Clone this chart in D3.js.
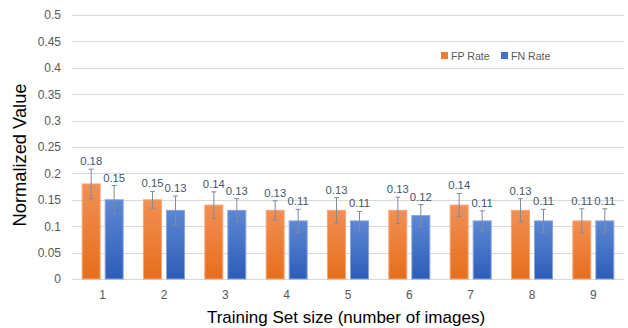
<!DOCTYPE html>
<html>
<head>
<meta charset="utf-8">
<script src="https://cdn.jsdelivr.net/npm/d3@7"></script>
<style>
  html, body { margin: 0; padding: 0; background: #fff; }
  svg { display: block; }
</style>
</head>
<body>
<svg id="chart" width="628" height="328"></svg>
<script>
const categories = ["1", "2", "3", "4", "5", "6", "7", "8", "9"];
const seriesNames = ["FP Rate", "FN Rate"];
const fpRate = [0.18, 0.15, 0.14, 0.13, 0.13, 0.13, 0.14, 0.13, 0.11];
const fnRate = [0.15, 0.13, 0.13, 0.11, 0.11, 0.12, 0.11, 0.11, 0.11];
const fpError = [0.028, 0.016, 0.025, 0.018, 0.024, 0.025, 0.022, 0.022, 0.023];
const fnError = [0.027, 0.027, 0.022, 0.022, 0.018, 0.021, 0.019, 0.022, 0.023];
const yTicks = [0, 0.05, 0.1, 0.15, 0.2, 0.25, 0.3, 0.35, 0.4, 0.45, 0.5];

const svg = d3.select("#chart");
const plotLeft = 72, plotRight = 624, plotTop = 15, plotBottom = 279;
const FONT = "Liberation Sans, Arial, sans-serif";

const defs = svg.append("defs");
const gradFP = defs.append("linearGradient").attr("id", "gFP").attr("x1", 0).attr("y1", 0).attr("x2", 0).attr("y2", 1);
gradFP.append("stop").attr("offset", "0%").attr("stop-color", "#f28f54");
gradFP.append("stop").attr("offset", "100%").attr("stop-color", "#e66e1c");
const gradFN = defs.append("linearGradient").attr("id", "gFN").attr("x1", 0).attr("y1", 0).attr("x2", 0).attr("y2", 1);
gradFN.append("stop").attr("offset", "0%").attr("stop-color", "#5d87d3");
gradFN.append("stop").attr("offset", "100%").attr("stop-color", "#2d5db9");

const y = d3.scaleLinear().domain([0, 0.5]).range([plotBottom, plotTop]);
const x0 = d3.scaleBand().domain(categories).range([plotLeft, plotRight]).paddingInner(0.315).paddingOuter(0.1575);
const x1 = d3.scaleBand().domain(seriesNames).range([0, x0.bandwidth()]).paddingInner(0.174);

// gridlines
svg.append("g").selectAll("line").data(yTicks).join("line")
  .attr("x1", plotLeft).attr("x2", plotRight)
  .attr("y1", d => Math.round(y(d)) + 0.5).attr("y2", d => Math.round(y(d)) + 0.5)
  .attr("stroke", "#d9d9d9").attr("stroke-width", 1);

// y axis labels
const yAxis = d3.axisLeft(y).tickValues(yTicks).tickSize(0).tickPadding(0).tickFormat(d => String(+d.toFixed(2)));
const yg = svg.append("g").attr("transform", `translate(${plotLeft - 11},0)`).call(yAxis);
yg.select(".domain").remove();
yg.selectAll("text").attr("font-family", FONT).attr("font-size", 12).attr("fill", "#595959");

// x axis labels
const xAxis = d3.axisBottom(x0).tickSize(0).tickPadding(0);
const xg = svg.append("g").attr("transform", `translate(0,${plotBottom + 11})`).call(xAxis);
xg.select(".domain").remove();
xg.selectAll("text").attr("font-family", FONT).attr("font-size", 12).attr("fill", "#595959");

const series = [
  { name: "FP Rate", values: fpRate, errs: fpError, fill: "url(#gFP)", stroke: "#f5a77a" },
  { name: "FN Rate", values: fnRate, errs: fnError, fill: "url(#gFN)", stroke: "#86a4dc" }
];

const groups = svg.append("g").selectAll("g").data(categories).join("g")
  .attr("transform", d => `translate(${x0(d)},0)`);

series.forEach(s => {
  groups.append("rect")
    .attr("x", x1(s.name) + 0.5)
    .attr("y", (d, i) => y(s.values[i]))
    .attr("width", x1.bandwidth() - 1)
    .attr("height", (d, i) => y(0) - y(s.values[i]))
    .attr("fill", s.fill)
    .attr("stroke", s.stroke).attr("stroke-width", 1);
});

series.forEach(s => {
  const cx = x1(s.name) + x1.bandwidth() / 2;
  groups.append("line")
    .attr("x1", cx).attr("x2", cx)
    .attr("y1", (d, i) => y(s.values[i] + s.errs[i]))
    .attr("y2", (d, i) => y(s.values[i] - s.errs[i]))
    .attr("stroke", "#7f8b9b").attr("stroke-width", 1);
  [1, -1].forEach(sign => {
    groups.append("line")
      .attr("x1", cx - 2.5).attr("x2", cx + 2.5)
      .attr("y1", (d, i) => y(s.values[i] + sign * s.errs[i]))
      .attr("y2", (d, i) => y(s.values[i] + sign * s.errs[i]))
      .attr("stroke", "#7f8b9b").attr("stroke-width", 1);
  });
  groups.append("text")
    .attr("x", cx)
    .attr("y", (d, i) => y(s.values[i] + s.errs[i]) - 4)
    .attr("text-anchor", "middle")
    .attr("font-family", FONT).attr("font-size", 11.3)
    .attr("fill", "#44546a")
    .text((d, i) => s.values[i].toFixed(2));
});

// legend
const legend = svg.append("g");
const legendX = [441, 501];
series.forEach((s, i) => {
  legend.append("rect").attr("x", legendX[i]).attr("y", 52).attr("width", 7).attr("height", 7)
    .attr("fill", i === 0 ? "#ed7d31" : "#4472c4");
  legend.append("text").attr("x", legendX[i] + 10).attr("y", 60)
    .attr("font-family", FONT).attr("font-size", 10.6)
    .attr("fill", "#595959").text(s.name);
});

// axis titles
svg.append("text").attr("x", 346).attr("y", 323).attr("text-anchor", "middle")
  .attr("font-family", FONT).attr("font-size", 17).attr("fill", "#000")
  .text("Training Set size (number of images)");
svg.append("text").attr("transform", "translate(26,155) rotate(-90)").attr("text-anchor", "middle")
  .attr("font-family", FONT).attr("font-size", 18.3).attr("fill", "#000")
  .text("Normalized Value");
</script>
</body>
</html>
